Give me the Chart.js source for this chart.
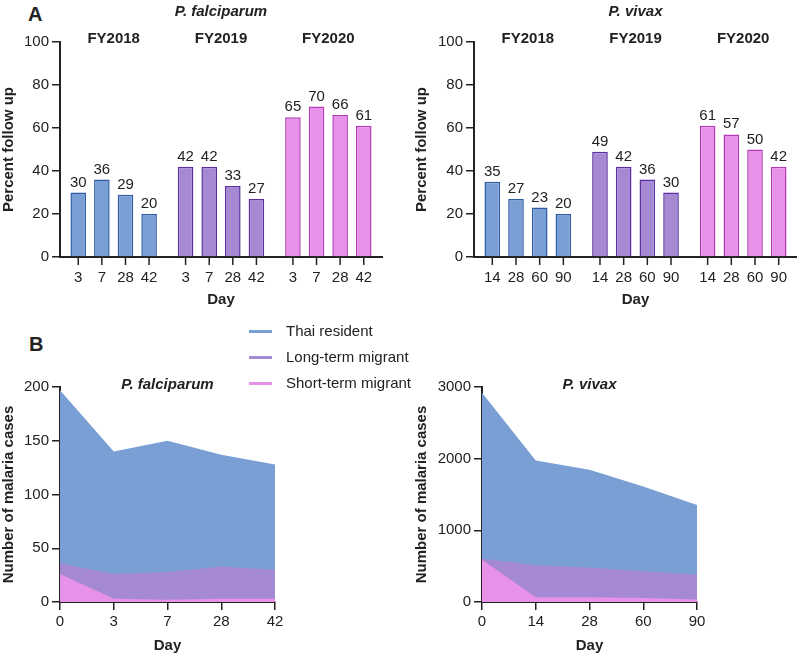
<!DOCTYPE html>
<html>
<head>
<meta charset="utf-8">
<script src="https://cdn.jsdelivr.net/npm/chart.js@4.4.1/dist/chart.umd.min.js"></script>
<style>
  body { margin: 0; background: #fff; font-family: 'Liberation Sans', Arial, sans-serif; color: #222; }
  #wrap { position: relative; width: 797px; height: 656px; overflow: hidden; }
  canvas { position: absolute; }
  .panel { position: absolute; font-weight: bold; font-size: 20px; line-height: 20px; }
  #legend { position: absolute; left: 249px; top: 320px; z-index: 2; }
  .item { position: relative; height: 26px; font-size: 15px; line-height: 22px; }
  .item span.sw { position: absolute; left: 0; top: 10px; width: 23px; height: 3px; }
  .item span.tx { position: absolute; left: 37px; top: 0; white-space: nowrap; }
</style>
</head>
<body>
<div id="wrap">
  <div class="panel" style="left:28px; top:4px;">A</div>
  <div class="panel" style="left:29px; top:334px;">B</div>
  <canvas id="pfFollow" width="400" height="312" style="left:0; top:0;"></canvas>
  <canvas id="pvFollow" width="397" height="312" style="left:400px; top:0;"></canvas>
  <canvas id="pfCases" width="400" height="346" style="left:0; top:310px;"></canvas>
  <canvas id="pvCases" width="397" height="346" style="left:400px; top:310px;"></canvas>
  <div id="legend"></div>
</div>
<script>
const FONT = "'Liberation Sans', Arial, sans-serif";
Chart.defaults.font.family = FONT;
Chart.defaults.color = '#222';

// panel A: percent follow up by fiscal year
const fyLabels = ['FY2018', 'FY2019', 'FY2020'];
const pfDays = ['3', '7', '28', '42'];
const pvDays = ['14', '28', '60', '90'];
const pfFY2018 = [30, 36, 29, 20];
const pfFY2019 = [42, 42, 33, 27];
const pfFY2020 = [65, 70, 66, 61];
const pvFY2018 = [35, 27, 23, 20];
const pvFY2019 = [49, 42, 36, 30];
const pvFY2020 = [61, 57, 50, 42];

// panel B: number of malaria cases
const seriesNames = ['Thai resident', 'Long-term migrant', 'Short-term migrant'];
const pfCaseDays = ['0', '3', '7', '28', '42'];
const pfThai = [197, 140, 150, 137, 128];
const pfLong = [36, 26, 28, 33, 30];
const pfShort = [26, 3, 2, 3, 3];
const pvCaseDays = ['0', '14', '28', '60', '90'];
const pvThai = [2920, 1975, 1845, 1612, 1355];
const pvLong = [608, 512, 483, 430, 384];
const pvShort = [590, 68, 66, 57, 35];

const fills = ['#7a9fd4', '#a58ad3', '#e891e8'];
const edges = ['#2f5ba6', '#5b2ea2', '#b33bb8'];
const AXIS = '#222';

// species title centred over the plot area
const speciesTitle = {
  id: 'speciesTitle',
  afterDraw(chart, args, opts) {
    const {ctx, chartArea} = chart;
    ctx.save();
    ctx.font = 'italic bold 15px ' + FONT;
    ctx.fillStyle = AXIS;
    ctx.textAlign = 'center';
    ctx.textBaseline = 'alphabetic';
    ctx.fillText(opts.text, (chartArea.left + chartArea.right) / 2, opts.y);
    ctx.restore();
  }
};

// values above bars, day ticks under bars, FY headers
const barLabels = {
  id: 'barLabels',
  afterDatasetsDraw(chart) {
    const {ctx, chartArea} = chart;
    const xs = chart.scales.x;
    ctx.save();
    ctx.fillStyle = AXIS;
    ctx.strokeStyle = AXIS;
    ctx.lineWidth = 1.5;
    ctx.textAlign = 'center';
    ctx.textBaseline = 'alphabetic';
    ctx.font = '15px ' + FONT;
    chart.data.datasets.forEach((ds, i) => {
      chart.getDatasetMeta(i).data.forEach((bar, j) => {
        ctx.fillText(String(ds.data[j]), bar.x, bar.y - 6);
        ctx.beginPath();
        ctx.moveTo(bar.x, chartArea.bottom);
        ctx.lineTo(bar.x, chartArea.bottom + 8);
        ctx.stroke();
        ctx.fillText(ds.label, bar.x, chartArea.bottom + 25);
      });
    });
    ctx.font = 'bold 15px ' + FONT;
    chart.data.labels.forEach((l, j) => {
      ctx.fillText(l, xs.getPixelForValue(j), chartArea.top + 1);
    });
    ctx.restore();
  }
};

function followChart(id, days, groups, title, padLeft, yWidth, padRight) {
  const datasets = days.map((d, i) => ({
    label: d,
    data: groups.map(g => g[i]),
    backgroundColor: fills,
    borderColor: edges,
    borderWidth: 1.5,
    categoryPercentage: 0.88,
    barPercentage: 0.66
  }));
  return new Chart(document.getElementById(id), {
    type: 'bar',
    data: { labels: fyLabels, datasets: datasets },
    plugins: [barLabels, speciesTitle],
    options: {
      responsive: false,
      animation: false,
      layout: { padding: { top: 42, left: padLeft, right: padRight, bottom: 0 } },
      plugins: {
        legend: { display: false },
        tooltip: { enabled: false },
        speciesTitle: { text: title, y: 16 }
      },
      scales: {
        x: {
          type: 'category',
          ticks: { display: false },
          grid: { display: false },
          border: { display: true, color: AXIS, width: 2 },
          title: { display: true, text: 'Day', font: { size: 15, weight: 'bold' }, padding: { top: 0, bottom: 3 } },
          afterFit: s => { s.height = 55; }
        },
        y: {
          min: 0, max: 100,
          ticks: { stepSize: 20, font: { size: 15 }, padding: 3, color: AXIS },
          grid: { drawOnChartArea: false, tickLength: 8, color: AXIS, lineWidth: 1.5 },
          border: { display: true, color: AXIS, width: 2 },
          title: { display: true, text: 'Percent follow up', font: { size: 15, weight: 'bold' }, padding: { top: 0, bottom: 0 } },
          afterFit: s => { s.width = yWidth; }
        }
      }
    }
  });
}

function casesChart(id, days, thai, longT, shortT, title, yMax, yStep, padLeft, yWidth, padRight) {
  const series = [thai, longT, shortT];
  return new Chart(document.getElementById(id), {
    type: 'line',
    data: {
      labels: days,
      datasets: series.map((s, i) => ({
        label: seriesNames[i],
        data: s,
        fill: 'origin',
        backgroundColor: fills[i],
        borderColor: fills[i],
        borderWidth: 0,
        pointRadius: 0,
        tension: 0,
        order: 3 - i
      }))
    },
    plugins: [speciesTitle],
    options: {
      responsive: false,
      animation: false,
      layout: { padding: { top: 77, left: padLeft, right: padRight, bottom: 0 } },
      plugins: {
        legend: { display: false },
        tooltip: { enabled: false },
        speciesTitle: { text: title, y: 79 }
      },
      scales: {
        x: {
          type: 'category',
          offset: false,
          ticks: { font: { size: 15 }, padding: 3, color: AXIS, maxRotation: 0 },
          grid: { drawOnChartArea: false, tickLength: 8, color: AXIS, lineWidth: 1.5 },
          border: { display: true, color: AXIS, width: 2 },
          title: { display: true, text: 'Day', font: { size: 15, weight: 'bold' }, padding: { top: 0, bottom: 1 } },
          afterFit: s => { s.height = 54; }
        },
        y: {
          min: 0, max: yMax,
          ticks: { stepSize: yStep, font: { size: 15 }, padding: 3, color: AXIS, callback: v => String(v) },
          grid: { drawOnChartArea: false, tickLength: 8, color: AXIS, lineWidth: 1.5 },
          border: { display: true, color: AXIS, width: 2 },
          title: { display: true, text: 'Number of malaria cases', font: { size: 15, weight: 'bold' }, padding: { top: 0, bottom: 0 } },
          afterFit: s => { s.width = yWidth; }
        }
      }
    }
  });
}

followChart('pfFollow', pfDays, [pfFY2018, pfFY2019, pfFY2020], 'P. falciparum', 0, 60, 18);
followChart('pvFollow', pvDays, [pvFY2018, pvFY2019, pvFY2020], 'P. vivax', 13, 61, 0);
casesChart('pfCases', pfCaseDays, pfThai, pfLong, pfShort, 'P. falciparum', 200, 50, 0, 60, 125);
casesChart('pvCases', pvCaseDays, pvThai, pvLong, pvShort, 'P. vivax', 3000, 1000, 13, 69, 100);

// legend for panel B
const legend = document.getElementById('legend');
seriesNames.forEach((name, i) => {
  const row = document.createElement('div');
  row.className = 'item';
  row.innerHTML = '<span class="sw" style="background:' + fills[i] + '"></span><span class="tx">' + name + '</span>';
  legend.appendChild(row);
});
</script>
</body>
</html>
